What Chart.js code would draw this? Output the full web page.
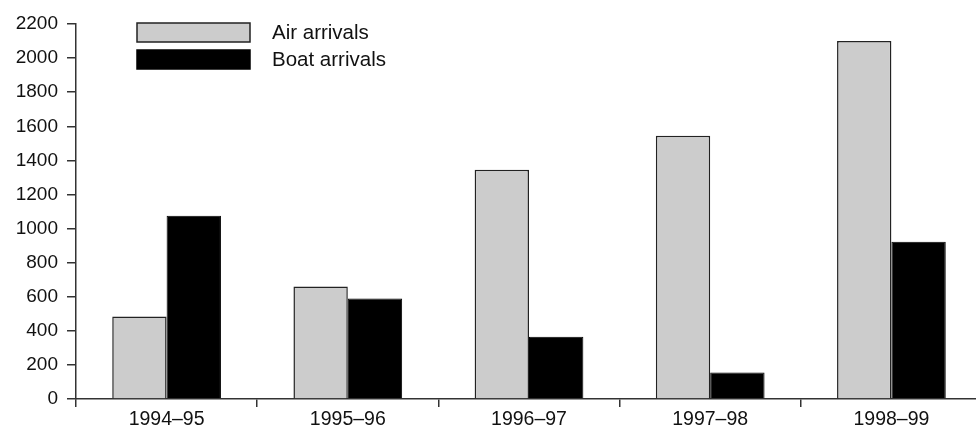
<!DOCTYPE html>
<html>
<head>
<meta charset="utf-8">
<script src="https://cdn.jsdelivr.net/npm/chart.js@4/dist/chart.umd.min.js"></script>
<style>
  html, body { margin: 0; padding: 0; overflow: hidden; background: #fff; }
  #wrap { width: 984px; height: 430px; }
</style>
</head>
<body>
<div id="wrap"><canvas id="arrivalsChart"></canvas></div>
<script>
const years = ['1994–95', '1995–96', '1996–97', '1997–98', '1998–99'];
const airArrivals = [484, 660, 1345, 1545, 2100];
const boatArrivals = [1075, 590, 365, 155, 922];
const yMax = 2200;
const yStep = 200;

const FONT = 'Liberation Sans, Arial, sans-serif';

// legend drawn inside the plot, top left
const boxLegend = {
    id: 'boxLegend',
    afterDraw(chart) {
        const c = chart.ctx;
        const area = chart.chartArea;
        const x = area.left + 61;
        let y = area.top - 1;
        c.save();
        chart.data.datasets.forEach(ds => {
            c.fillStyle = ds.backgroundColor;
            c.fillRect(x, y, 113, 19);
            c.lineWidth = 1.5;
            c.strokeStyle = ds.borderColor;
            c.strokeRect(x, y, 113, 19);
            c.fillStyle = '#111';
            c.font = '20.5px ' + FONT;
            c.textBaseline = 'middle';
            c.fillText(ds.label, x + 135, y + 10);
            y += 27;
        });
        c.restore();
    }
};

const ctx = document.getElementById('arrivalsChart').getContext('2d');
new Chart(ctx, {
    type: 'bar',
    data: {
        labels: years,
        datasets: [{
            label: 'Air arrivals',
            data: airArrivals,
            backgroundColor: '#cccccc',
            borderColor: '#222222',
            borderWidth: 1.5
        }, {
            label: 'Boat arrivals',
            data: boatArrivals,
            backgroundColor: '#000000',
            borderColor: '#000000',
            borderWidth: 1
        }]
    },
    options: {
        responsive: true,
        maintainAspectRatio: false,
        animation: false,
        layout: { padding: { top: 24, right: 2, bottom: 0, left: 0 } },
        datasets: {
            bar: { categoryPercentage: 0.6, barPercentage: 1.0 }
        },
        plugins: {
            legend: { display: false },
            tooltip: { enabled: false }
        },
        scales: {
            x: {
                grid: {
                    offset: true,
                    drawOnChartArea: false,
                    drawTicks: true,
                    tickLength: 8,
                    color: '#333',
                    lineWidth: 1.5
                },
                border: { color: '#333', width: 1.5 },
                ticks: {
                    color: '#111',
                    font: { family: FONT, size: 19.5 },
                    padding: 1,
                    maxRotation: 0
                },
                afterFit(scale) { scale.height = 31; }
            },
            y: {
                min: 0,
                max: yMax,
                grid: {
                    drawOnChartArea: false,
                    drawTicks: true,
                    tickLength: 9,
                    color: '#333',
                    lineWidth: 1.5
                },
                border: { color: '#333', width: 1.5 },
                ticks: {
                    stepSize: yStep,
                    color: '#111',
                    font: { family: FONT, size: 19 },
                    padding: 9,
                    callback: v => String(v)
                },
                afterFit(scale) { scale.width = 76; }
            }
        }
    },
    plugins: [boxLegend]
});
</script>
</body>
</html>
